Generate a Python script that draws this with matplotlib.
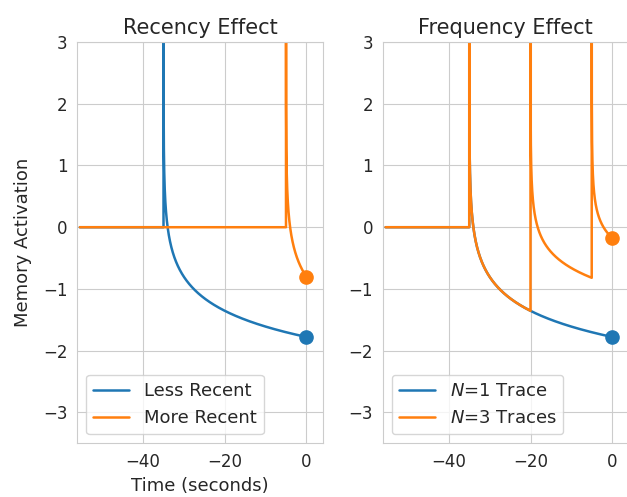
import numpy as np
import matplotlib.pyplot as plt
import seaborn as sns

sns.set_style('whitegrid')

# presentation times of each memory trace (seconds before now)
less_recent = [-35]
more_recent = [-5]
one_trace = [-35]
three_traces = [-35, -20, -5]
decay = 0.5
t_start = -55.5


def activation(traces, t):
    # ACT-R base-level activation, 0 before the first trace
    total = np.zeros_like(t)
    for tr in traces:
        dt = t - tr
        term = np.zeros_like(t)
        pos = dt > 0
        term[pos] = dt[pos] ** (-decay)
        term[dt == 0] = 1e6
        total += term
    act = np.zeros_like(t)
    has = total > 0
    act[has] = np.log(total[has])
    return act


def make_time(traces):
    t = np.arange(t_start, 0.0001, 0.01)
    t = np.unique(np.round(np.concatenate([t, traces, np.array(traces) + 0.001]), 4))
    return t


fig = plt.figure(figsize=(6.27, 4.97), dpi=100)
ax1 = fig.add_axes([0.1228, 0.108, 0.392, 0.8075])
ax2 = fig.add_axes([0.6104, 0.108, 0.392, 0.8075])

blue = '#1f77b4'
orange = '#ff7f0e'

panels = [
    (ax1, less_recent, more_recent, 'Less Recent', 'More Recent', 'Recency Effect'),
    (ax2, one_trace, three_traces, '$N$=1 Trace', '$N$=3 Traces', 'Frequency Effect'),
]

for ax, tr_a, tr_b, lab_a, lab_b, title in panels:
    ta = make_time(tr_a)
    tb = make_time(tr_b)
    aa = activation(tr_a, ta)
    ab = activation(tr_b, tb)
    ax.plot(ta, aa, color=blue, lw=1.8, label=lab_a)
    ax.plot(tb, ab, color=orange, lw=1.8, label=lab_b)
    ax.plot([0], [aa[-1]], 'o', color=blue, ms=9.5)
    ax.plot([0], [ab[-1]], 'o', color=orange, ms=9.5)
    ax.set_xlim(-56.2, 4.0)
    ax.set_ylim(-3.5, 3)
    ax.set_xticks([-40, -20, 0])
    ax.set_yticks([-3, -2, -1, 0, 1, 2, 3])
    ax.tick_params(labelsize=12)
    ax.set_title(title, fontsize=15)
    ax.legend(loc='lower left', fontsize=13)

ax1.set_xlabel('Time (seconds)', fontsize=13)
ax1.set_ylabel('Memory Activation', fontsize=13, labelpad=8)

fig.savefig('out.png', dpi=100)
